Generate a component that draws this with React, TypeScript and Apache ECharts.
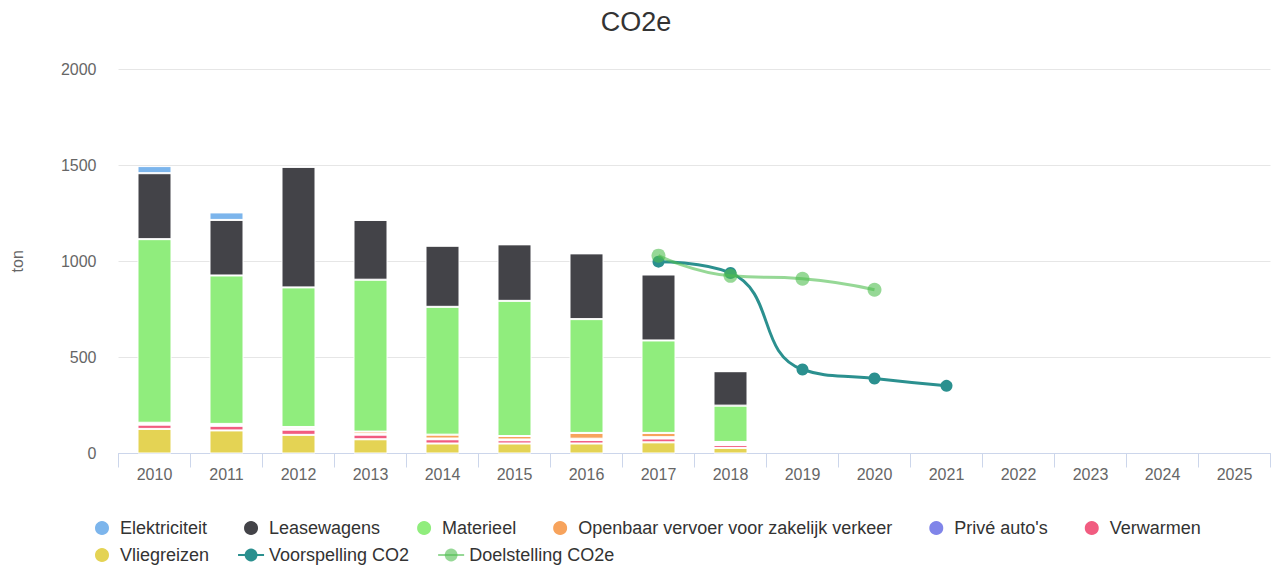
import React, { useEffect, useRef } from "react";
import * as echarts from "echarts";

const years = ["2010","2011","2012","2013","2014","2015","2016","2017","2018","2019","2020","2021","2022","2023","2024","2025"];
const yTicks = [0, 500, 1000, 1500, 2000];

const elektriciteit = [37, 39, 0, 0, 0, 0, 0, 0, 0];
const leasewagens = [343, 289, 627, 311, 318, 294, 342, 343, 179];
const materieel = [955, 772, 726, 790, 665, 703, 592, 481, 189];
const openbaarVervoer = [6, 6, 10, 12, 20, 18, 30, 22, 8];
const priveAutos = [4, 4, 4, 4, 4, 4, 7, 7, 8];
const verwarmen = [22, 24, 27, 24, 22, 17, 18, 20, 15];
const vliegreizen = [128, 120, 97, 74, 52, 52, 52, 58, 29];
const voorspelling = [null, null, null, null, null, null, null, 998, 939, 437, 390, 352];
const doelstelling = [null, null, null, null, null, null, null, 1029, 924, 909, 852];

const legendRow1 = ["Elektriciteit", "Leasewagens", "Materieel", "Openbaar vervoer voor zakelijk verkeer", "Privé auto's", "Verwarmen"];
const legendRow2 = ["Vliegreizen", "Voorspelling CO2", "Doelstelling CO2e"];

const colors: Record<string, string> = {
  "Elektriciteit": "#7cb5ec",
  "Leasewagens": "#434348",
  "Materieel": "#90ed7d",
  "Openbaar vervoer voor zakelijk verkeer": "#f7a35c",
  "Privé auto's": "#8085e9",
  "Verwarmen": "#f15c80",
  "Vliegreizen": "#e4d354",
  "Voorspelling CO2": "#2b908f",
  "Doelstelling CO2e": "rgba(80,190,80,0.6)",
};

const FONT = "'Liberation Sans', Arial, sans-serif";

export default function App() {
  const ref = useRef<HTMLDivElement>(null);
  useEffect(() => {
    if (!ref.current) return;
    const chart = echarts.init(ref.current, undefined, { renderer: "svg" });
    const barSeries = (name: string, data: number[]) => ({
      name,
      type: "bar",
      stack: "total",
      data,
      barWidth: 34,
      itemStyle: { color: colors[name], borderColor: "#ffffff", borderWidth: 1 },
      z: 2,
    });
    const legendBase = {
      orient: "horizontal",
      itemWidth: 26,
      itemHeight: 16,
      padding: 0,
      textStyle: { fontSize: 18, color: "#333333", fontFamily: FONT },
    };
    const isLine = (n: string) => n === "Voorspelling CO2" || n === "Doelstelling CO2e";
    chart.setOption({
      animation: false,
      color: Object.values(colors),
      title: {
        text: "CO2e",
        left: "center",
        top: 8,
        padding: 0,
        textStyle: { fontSize: 27, fontWeight: "normal", color: "#333333", fontFamily: FONT },
      },
      legend: [
        { ...legendBase, left: 93, top: 519, itemGap: 35, data: legendRow1.map((n) => ({ name: n, icon: "circle" })) },
        { ...legendBase, left: 93, top: 546, itemGap: 28, data: legendRow2.map((n) => (isLine(n) ? { name: n } : { name: n, icon: "circle" })) },
      ],
      grid: { left: 118.5, right: 1.5, top: 69, bottom: 113.5, containLabel: false },
      xAxis: {
        type: "category",
        data: years,
        boundaryGap: true,
        axisLine: { lineStyle: { color: "#ccd6eb", width: 1 } },
        axisTick: { show: true, length: 14, interval: 0, alignWithLabel: false, lineStyle: { color: "#ccd6eb" } },
        axisLabel: { color: "#666666", fontSize: 16, margin: 13, interval: 0, fontFamily: FONT },
      },
      yAxis: {
        type: "value",
        min: yTicks[0],
        max: yTicks[yTicks.length - 1],
        interval: 500,
        name: "ton",
        nameLocation: "middle",
        nameGap: 93,
        nameRotate: 90,
        nameTextStyle: { color: "#666666", fontSize: 16, fontFamily: FONT },
        axisLine: { show: false },
        axisTick: { show: false },
        splitLine: { lineStyle: { color: "#e6e6e6", width: 1 } },
        axisLabel: { color: "#666666", fontSize: 16, margin: 22, fontFamily: FONT, formatter: (v: number) => String(v) },
      },
      series: [
        barSeries("Vliegreizen", vliegreizen),
        barSeries("Verwarmen", verwarmen),
        barSeries("Privé auto's", priveAutos),
        barSeries("Openbaar vervoer voor zakelijk verkeer", openbaarVervoer),
        barSeries("Materieel", materieel),
        barSeries("Leasewagens", leasewagens),
        barSeries("Elektriciteit", elektriciteit),
        {
          name: "Voorspelling CO2",
          type: "line",
          data: voorspelling,
          smooth: 0.5,
          symbol: "circle",
          symbolSize: 12,
          lineStyle: { color: colors["Voorspelling CO2"], width: 3 },
          itemStyle: { color: colors["Voorspelling CO2"] },
          z: 3,
        },
        {
          name: "Doelstelling CO2e",
          type: "line",
          data: doelstelling,
          smooth: 0.5,
          symbol: "circle",
          symbolSize: 14,
          lineStyle: { color: colors["Doelstelling CO2e"], width: 3 },
          itemStyle: { color: colors["Doelstelling CO2e"] },
          z: 4,
        },
      ],
    });
    return () => chart.dispose();
  }, []);
  return <div ref={ref} style={{ position: "fixed", left: 0, top: 0, width: 1272, height: 567, background: "#ffffff" }} />;
}
